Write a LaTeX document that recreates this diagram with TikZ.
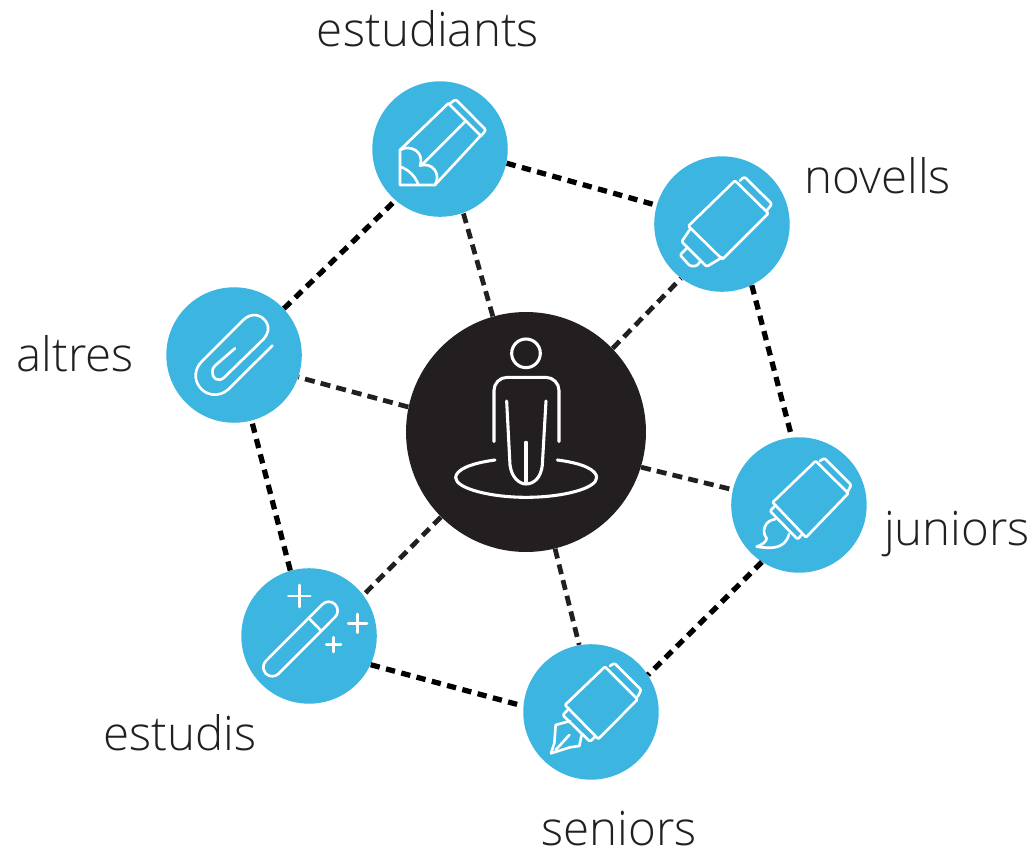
\documentclass[tikz,border=0pt]{standalone}
\usepackage{fontspec}
\setmainfont{Open Sans Light}
\usetikzlibrary{positioning}
\definecolor{icoblue}{HTML}{3CB5E0}
\definecolor{hubblack}{HTML}{231F20}
\tikzset{main node/.style={circle,fill=icoblue,minimum size=2.71cm,inner sep=0pt},
         hub node/.style={circle,fill=hubblack,minimum size=4.8cm,inner sep=0pt},
         name node/.style={text=hubblack,font=\fontsize{27}{27}\selectfont,text height=19.3pt,text depth=0pt,inner sep=0pt},
         rim line/.style={draw=black,line width=3pt,dash pattern=on 5.3pt off 3.7pt},
         spoke line/.style={draw=hubblack,line width=2.7pt,dash pattern=on 5.7pt off 3.5pt},
         icon line/.style={draw=white,line width=1.5pt,line join=round,line cap=round},
            }

\begin{document}
\begin{tikzpicture}[x=0.02cm,y=-0.02cm,on grid]
    \useasboundingbox (0,0) rectangle (1032,849);

    \node[hub node] (hub) at (526,432) {};
    \node[main node] (stud) [above left = 5.66cm and 1.72cm of hub] {};
    \node[main node] (nov) [above right = 4.16cm and 3.92cm of hub] {};
    \node[main node] (alt) [above left = 1.54cm and 5.84cm of hub] {};
    \node[main node] (jun) [below right = 1.46cm and 5.46cm of hub] {};
    \node[main node] (est) [below left = 4.08cm and 4.34cm of hub] {};
    \node[main node] (sen) [below right = 5.60cm and 1.30cm of hub] {};

    \node[name node] (l1) [above left = 2.40cm and 0.24cm of stud] {estudiants};
    \node[name node] (l2) [above right = 0.96cm and 3.12cm of nov] {novells};
    \node[name node] (l3) [left = 3.18cm of alt] {altres};
    \node[name node] (l4) [below right = 0.48cm and 3.16cm of jun] {juniors};
    \node[name node] (l5) [below left = 1.96cm and 2.58cm of est] {estudis};
    \node[name node] (l6) [below right = 2.33cm and 0.56cm of sen] {seniors};

    \path[rim line]
    (stud.-12) edge node {} (nov.164)
    (nov.-64) edge node {} (jun.96)
    (jun.-123) edge node {} (sen.33)
    (est.-25) edge node {} (sen.175)
    (est.106) edge node {} (alt.-75)
    (alt.43) edge node {} (stud.-131);

    \path[spoke line]
    (hub.106) edge node {} (stud.-70)
    (hub.44) edge node {} (nov.233)
    (hub.-17) edge node {} (jun.167)
    (hub.-76) edge node {} (sen.100)
    (hub.225) edge node {} (est.37)
    (hub.168) edge node {} (alt.-19);

    % pencil
    \begin{scope}[shift={(360,70)},scale=0.3333,icon line]
        \draw (120,240) -- (265,100) -- (362,197) -- (225,345) -- (120,345) -- cycle;
        \draw[rounded corners=1.2pt] (268,102) -- (287,88) -- (378,180) -- (364,197);
        \draw (315,155) -- (185,285);
        \draw (120,240) .. controls (150,222) and (195,245) .. (180,287) .. controls (215,275) and (245,310) .. (225,345);
        \draw (120,290) .. controls (145,298) and (168,320) .. (175,345);
    \end{scope}

    % highlighter
    \begin{scope}[shift={(645,150)},scale=0.3333,icon line]
        \draw[rounded corners=0.6pt] (130,228) -- (270,92) -- (370,190) -- (232,328) -- cycle;
        \draw[rounded corners=1.2pt] (285,92) -- (298,80) -- (381,162) -- (365,182);
        \draw[rounded corners=0.8pt] (137,235) -- (110,275) -- (185,350) -- (232,322);
        \draw[rounded corners=0.8pt] (125,295) -- (105,315) -- (135,348) -- (155,348) -- (167,333);
    \end{scope}

    % brush
    \begin{scope}[shift={(725,430)},scale=0.3333,icon line]
        \draw[rounded corners=0.6pt] (143,217) -- (272,93) -- (370,190) -- (243,322) -- cycle;
        \draw[rounded corners=1.2pt] (285,93) -- (298,84) -- (379,165) -- (368,185);
        \draw[rounded corners=0.8pt] (148,230) -- (135,243) -- (218,328) -- (232,312);
        \draw (150,268) .. controls (120,270) and (108,305) .. (125,325) .. controls (125,335) and (110,345) .. (95,350) .. controls (130,355) and (180,362) .. (192,312);
    \end{scope}

    % fountain pen
    \begin{scope}[shift={(515,640)},scale=0.3333,icon line]
        \draw[rounded corners=0.6pt] (150,195) -- (270,80) -- (368,178) -- (250,297) -- cycle;
        \draw[rounded corners=1.2pt] (285,78) -- (298,69) -- (379,150) -- (368,170);
        \draw[rounded corners=0.8pt] (158,210) -- (143,225) -- (225,305) -- (240,290);
        \draw (165,243) -- (122,255) -- (118,310) -- (108,340) -- (165,322) -- (193,318) -- (200,285);
        \draw (122,330) -- (163,285);
    \end{scope}

    % wand
    \begin{scope}[shift={(235,560)},scale=0.3333,icon line]
        \draw (262,133) arc[start angle=225,end angle=405,radius=27] -- (131,341) arc[start angle=45,end angle=225,radius=27] -- cycle;
        \draw (222,175) -- (258,212);
        \draw (193,75) -- (193,141) (160,108) -- (226,108);
        \draw (368,162) -- (368,218) (340,190) -- (396,190);
        \draw (296,232) -- (296,276) (274,254) -- (318,254);
    \end{scope}

    % clip
    \begin{scope}[shift={(160,280)},scale=0.3333,icon line]
        \draw (337,197) -- (205,328) .. controls (175,355) and (135,345) .. (118,320) .. controls (100,295) and (105,265) .. (125,245) -- (250,120) .. controls (275,95) and (305,105) .. (318,125) .. controls (330,145) and (325,160) .. (310,178) -- (192,293) .. controls (175,308) and (155,295) .. (157,275) .. controls (157,268) and (160,262) .. (165,257) -- (225,205);
    \end{scope}

    % person
    \begin{scope}[shift={(440,325)},scale=0.3333,icon line,line width=1.75pt]
        \draw (258,85) circle[radius=43];
        \draw[rounded corners=7.5pt] (162,350) -- (162,157) -- (357,157) -- (357,350);
        \draw (200,228) -- (210,420) .. controls (215,460) and (240,477) .. (258,477) .. controls (280,477) and (303,460) .. (307,420) -- (318,228);
        \draw (258,352) -- (258,470);
        \draw (352,405) .. controls (430,415) and (470,435) .. (470,458) .. controls (470,490) and (370,517) .. (258,517) .. controls (150,517) and (47,490) .. (47,458) .. controls (47,435) and (90,415) .. (165,405);
    \end{scope}
\end{tikzpicture}
\end{document}
